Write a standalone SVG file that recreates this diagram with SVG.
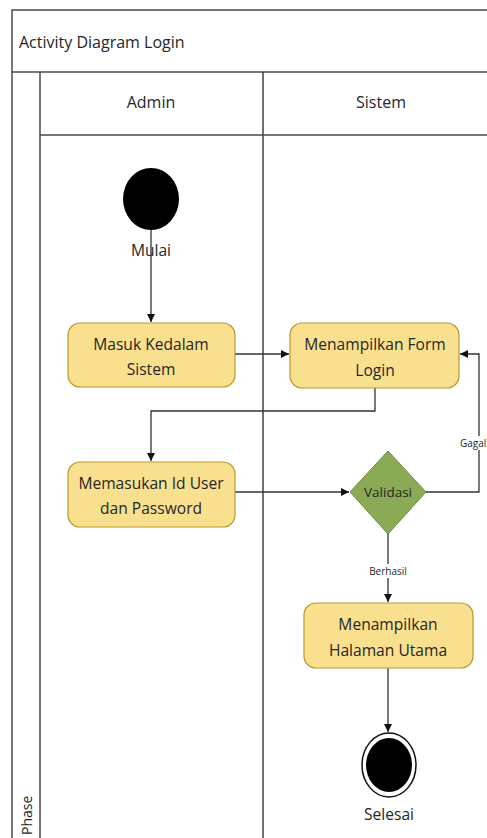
<svg xmlns="http://www.w3.org/2000/svg" width="487" height="838" viewBox="0 0 487 838">
<defs>
<style>
.frame{fill:none;stroke:#4a4a4a;stroke-width:1.5}
.act{fill:#F9E08E;stroke:#B8972E;stroke-width:1.2}
.dec{fill:#8BAA55;stroke:#6E8C3C;stroke-width:1}
.t{font-family:"Open Sans","Noto Sans",sans-serif;fill:#262626;text-anchor:middle}
.box{font-size:15.6px}
.hdr{font-size:16px}
.small{font-size:10px}
.conn{fill:none;stroke:#333;stroke-width:1.3}
</style>
<marker id="arr" viewBox="0 0 10 10" refX="10" refY="5" markerWidth="8" markerHeight="8" markerUnits="userSpaceOnUse" orient="auto">
<path d="M0,0 L10,5 L0,10 z" fill="#111"/>
</marker>
</defs>
<rect width="487" height="838" fill="#fff"/>
<g id="frame">
<rect class="frame" x="12" y="10" width="490" height="840"/>
<line class="frame" x1="12" y1="72" x2="490" y2="72"/>
<line class="frame" x1="40" y1="72" x2="40" y2="840"/>
<line x1="263" y1="72" x2="263" y2="840" stroke="#222" stroke-width="1.3"/>
<line class="frame" x1="40" y1="135" x2="490" y2="135"/>
<text class="t" x="19" y="48" style="text-anchor:start;font-size:16px">Activity Diagram Login</text>
<text class="t hdr" x="151" y="108">Admin</text>
<text class="t hdr" x="381" y="108">Sistem</text>
<text class="t" transform="translate(32 835) rotate(-90)" style="text-anchor:start;font-size:14px">Phase</text>
</g>
<g id="connectors">
<line class="conn" x1="151" y1="230" x2="151" y2="322" marker-end="url(#arr)"/>
<line class="conn" x1="235" y1="354" x2="289" y2="354" marker-end="url(#arr)"/>
<polyline class="conn" points="375,388 375,411 151,411 151,461" marker-end="url(#arr)"/>
<line class="conn" x1="235" y1="492" x2="349" y2="492" marker-end="url(#arr)"/>
<polyline class="conn" points="426,492 479,492 479,354 460,354" marker-end="url(#arr)"/>
<line class="conn" x1="388" y1="534" x2="388" y2="602" marker-end="url(#arr)"/>
<line class="conn" x1="388" y1="668" x2="388" y2="732" marker-end="url(#arr)"/>
<rect x="459" y="436" width="28" height="14" fill="#fff"/>
<text class="t small" x="460" y="447" style="text-anchor:start">Gagal</text>
<rect x="368" y="564" width="40" height="14" fill="#fff"/>
<text class="t small" x="388" y="575">Berhasil</text>
</g>
<g id="start">
<ellipse cx="151" cy="199" rx="28" ry="31" fill="#000"/>
<text class="t box" x="151" y="256">Mulai</text>
</g>
<g id="masuk">
<rect class="act" x="68" y="323" width="167" height="64" rx="12"/>
<text class="t box" x="151" y="350">Masuk Kedalam</text>
<text class="t box" x="151" y="375">Sistem</text>
</g>
<g id="formlogin">
<rect class="act" x="290" y="323" width="169" height="65" rx="12"/>
<text class="t box" x="375" y="350">Menampilkan Form</text>
<text class="t box" x="375" y="376">Login</text>
</g>
<g id="memasukan">
<rect class="act" x="68" y="462" width="167" height="65" rx="12"/>
<text class="t box" x="151" y="489">Memasukan Id User</text>
<text class="t box" x="151" y="514">dan Password</text>
</g>
<g id="validasi">
<polygon class="dec" points="388,451 426,492 388,534 350,492"/>
<text class="t" x="388" y="497" style="font-size:13.5px">Validasi</text>
</g>
<g id="halaman">
<rect class="act" x="304" y="603" width="169" height="65" rx="12"/>
<text class="t box" x="388" y="630">Menampilkan</text>
<text class="t box" x="388" y="656">Halaman Utama</text>
</g>
<g id="end">
<ellipse cx="389" cy="765" rx="27" ry="32" fill="#fff" stroke="#111" stroke-width="1.5"/>
<ellipse cx="389" cy="765" rx="23" ry="27" fill="#000"/>
<text class="t box" x="389" y="820">Selesai</text>
</g>
</svg>
